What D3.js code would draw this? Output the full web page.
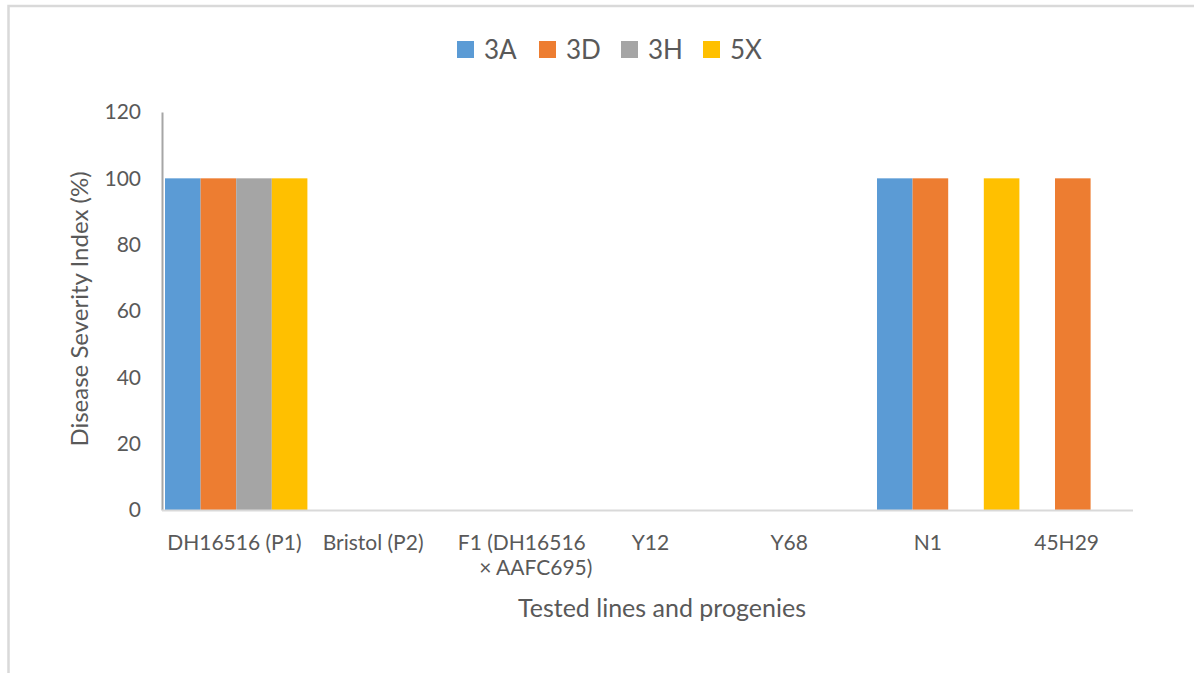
<!DOCTYPE html>
<html>
<head>
<meta charset="utf-8">
<script src="https://cdn.jsdelivr.net/npm/d3@7"></script>
<style>
  html, body { margin: 0; padding: 0; background: #fff; }
  svg { display: block; }
  text { font-family: Lato, "Open Sans", sans-serif; fill: #595959; }
</style>
</head>
<body>
<svg id="chart" width="1194" height="673"></svg>
<script>
// Tested lines and progenies
const categories = ["DH16516 (P1)", "Bristol (P2)", "F1 (DH16516 × AAFC695)", "Y12", "Y68", "N1", "45H29"];
// Wrapped tick labels (line breaks as shown under the axis)
const categoryLines = [["DH16516 (P1)"], ["Bristol (P2)"], ["F1 (DH16516", "× AAFC695)"], ["Y12"], ["Y68"], ["N1"], ["45H29"]];

// Disease severity index (%) per isolate
const seriesNames = ["3A", "3D", "3H", "5X"];
const values3A = [100, 0, 0, 0, 0, 100, 0];
const values3D = [100, 0, 0, 0, 0, 100, 100];
const values3H = [100, 0, 0, 0, 0, 0, 0];
const values5X = [100, 0, 0, 0, 0, 100, 0];
const seriesValues = [values3A, values3D, values3H, values5X];
const seriesColors = ["#5b9bd5", "#ed7d31", "#a5a5a5", "#ffc000"];

const yTicks = [0, 20, 40, 60, 80, 100, 120];

const svg = d3.select("#chart");

// outer chart frame (partially visible)
svg.append("rect")
  .attr("x", 8.5).attr("y", 6)
  .attr("width", 1300).attr("height", 800)
  .attr("fill", "none")
  .attr("stroke", "#d9d9d9")
  .attr("stroke-width", 2.5);

const plot = { left: 162, right: 1133, top: 112, bottom: 510 };

const y = d3.scaleLinear().domain([0, 120]).range([plot.bottom, plot.top]);

// category positions for tick labels
const xLabel = d3.scaleBand().domain(categories).range([plot.left + 3, plot.right + 3]);
// category positions for bar clusters
const xGroup = d3.scaleBand().domain(categories).range([plot.left + 3, plot.left + 3 + 7 * 142.4]).padding(0);
const xSeries = d3.scaleBand().domain(seriesNames).range([0, xGroup.bandwidth()]).padding(0);

// y axis
const yAxis = d3.axisLeft(y).tickValues(yTicks).tickSize(0).tickPadding(21);
const gy = svg.append("g").attr("transform", `translate(${plot.left},0)`).call(yAxis);
gy.select(".domain").attr("stroke", "#a6a6a6").attr("stroke-width", 2);
gy.selectAll(".tick text")
  .attr("font-size", 21)
  .attr("font-family", "Lato, sans-serif")
  .attr("fill", "#595959");

// bars
const barData = [];
seriesNames.forEach((s, si) => {
  categories.forEach((c, ci) => {
    barData.push({ series: s, category: c, value: seriesValues[si][ci], color: seriesColors[si] });
  });
});

svg.append("g").selectAll("rect")
  .data(barData)
  .join("rect")
  .attr("x", d => xGroup(d.category) + xSeries(d.series))
  .attr("width", xSeries.bandwidth())
  .attr("y", d => y(d.value))
  .attr("height", d => y(0) - y(d.value))
  .attr("fill", d => d.color);

// x axis line
const xAxis = d3.axisBottom(xLabel).tickSize(0).tickFormat("");
const gx = svg.append("g").attr("transform", `translate(0,${plot.bottom})`).call(xAxis);
gx.select(".domain")
  .attr("d", `M${plot.left},0.5H${plot.right}`)
  .attr("stroke", "#d9d9d9").attr("stroke-width", 2);

// x tick labels (wrapped)
const labelG = svg.append("g");
categories.forEach((c, i) => {
  const cx = xLabel(c) + xLabel.bandwidth() / 2;
  const t = labelG.append("text")
    .attr("x", cx)
    .attr("y", 550)
    .attr("text-anchor", "middle")
    .attr("font-size", 21);
  categoryLines[i].forEach((line, li) => {
    t.append("tspan")
      .attr("x", cx + (categoryLines[i].length > 1 ? 10 + li * 14 : 0))
      .attr("dy", li === 0 ? 0 : 25)
      .text(line);
  });
});

// axis titles
svg.append("text")
  .attr("x", 662).attr("y", 617)
  .attr("text-anchor", "middle")
  .attr("font-size", 25)
  .text("Tested lines and progenies");

svg.append("text")
  .attr("transform", `translate(88,309) rotate(-90)`)
  .attr("text-anchor", "middle")
  .attr("font-size", 24)
  .text("Disease Severity Index (%)");

// legend
const legend = svg.append("g");
const legendItemX = [457, 539, 621, 703];
seriesNames.forEach((s, i) => {
  const g = legend.append("g").attr("transform", `translate(${legendItemX[i]},0)`);
  g.append("rect").attr("x", 0).attr("y", 41).attr("width", 17).attr("height", 17).attr("fill", seriesColors[i]);
  g.append("text").attr("x", 27).attr("y", 59).attr("font-size", 26).text(s);
});
</script>
</body>
</html>
